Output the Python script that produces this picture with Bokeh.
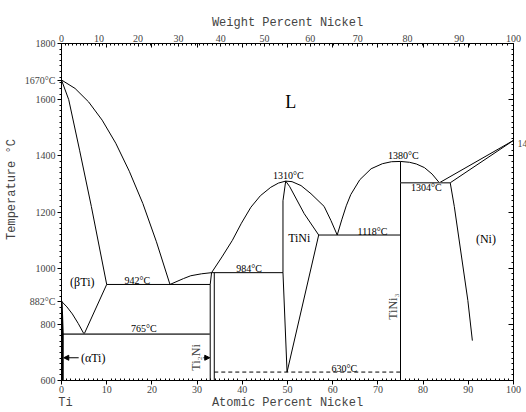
import math
from bokeh.plotting import figure
from bokeh.models import (Range1d, LinearAxis, FixedTicker,
                          CustomJSTickFormatter, Label, Arrow, NormalHead)
from bokeh.embed import file_html
from bokeh.resources import INLINE

# ---------------- data (atomic % Ni, temperature °C) ----------------
liq_ti_x = [0, 3, 6, 9, 12, 15, 18, 21, 24]
liq_ti_t = [1670, 1640, 1592, 1527, 1445, 1345, 1230, 1094, 942]

sol_bti_x = [0, 1.6, 4, 6.6, 10]
sol_bti_t = [1670, 1600, 1420, 1220, 942]

solv_bti_x = [10, 5]
solv_bti_t = [942, 765]

transus_x = [0, 1.2, 2.4, 3.7, 5]
transus_t = [882, 862, 837, 803, 765]

ati_x = [0, 0.25, 0.25]
ati_t = [882, 765, 600]

iso765_x = [0.25, 32.9]
iso765_t = [765, 765]

iso942_x = [10, 32.9]
iso942_t = [942, 942]

ti2ni_l_x = [33.2, 32.9, 32.9]
ti2ni_l_t = [984, 942, 600]

ti2ni_r_x = [33.8, 33.8]
ti2ni_r_t = [984, 600]

liq_eut_x = [24, 27, 28.6, 31, 33.2]
liq_eut_t = [942, 963, 973, 980, 984]

iso984_x = [33.2, 49.0]
iso984_t = [984, 984]

liq_tini_x = [33.2, 35.5, 37.8, 39.8, 41.9, 44, 46.3, 48, 49.6, 51, 53, 55.2, 58.1, 59.6, 61]
liq_tini_t = [984, 1040, 1099, 1160, 1217, 1258, 1288, 1303, 1310, 1308, 1294, 1265, 1220, 1170, 1118]

tini_l_x = [49.6, 49.0, 49.0, 49.9]
tini_l_t = [1310, 1240, 984, 630]

tini_r_x = [49.6, 50.5, 53.7, 56.9, 49.9]
tini_r_t = [1310, 1290, 1194, 1118, 630]

iso1118_x = [56.9, 75]
iso1118_t = [1118, 1118]

liq_tini3_x = [61, 62, 63, 64, 66, 68.5, 71, 73, 75, 77, 78.5, 80.3, 82, 83.6]
liq_tini3_t = [1118, 1172, 1222, 1262, 1315, 1354, 1372, 1379, 1380, 1377, 1371, 1358, 1335, 1304]

tini3_x = [75, 75]
tini3_t = [600, 1380]

iso1304_x = [75, 86]
iso1304_t = [1304, 1304]

liq_ni_x = [83.6, 100]
liq_ni_t = [1304, 1455]

sol_ni_x = [86, 100]
sol_ni_t = [1304, 1455]

solv_ni_x = [86, 86.9, 89.9, 90.9]
solv_ni_t = [1304, 1220, 885, 742]

iso630_x = [33.8, 75]
iso630_t = [630, 630]

# text labels inside the diagram
lab_text = ["L", "1310°C", "1380°C", "1304°C", "1118°C",
            "TiNi", "(Ni)", "942°C", "(βTi)", "984°C", "765°C", "(αTi)", "630°C"]
lab_x = [50.7, 50.2, 75.6, 80.7, 68.8, 52.6, 93.9, 16.8, 4.6, 41.5, 18.2, 7.0, 62.6]
lab_t = [1590, 1331, 1401, 1288, 1132, 1108, 1103, 956, 952, 998, 786, 680, 642]

rot_text = ["TiNi₃", "Ti₂Ni"]
rot_x = [73.4, 29.7]
rot_t = [863, 682]

arrow_x0 = [3.8, 31.4]
arrow_x1 = [0.5, 32.8]
arrow_t = [681, 681]

# texts around the frame
temp_ticks = [600, 800, 1000, 1200, 1400, 1600, 1800, 882, 1670]
temp_names = ["600", "800", "1000", "1200", "1400", "1600", "1800", "882°C", "1670°C"]
temp_minor = [t for t in range(600, 1801, 20) if t % 200 != 0]

at_ticks = list(range(0, 101, 10))
at_minor = [a for a in range(0, 101) if a % 10 != 0]

bottom_names = ["Ti", "Atomic Percent Nickel", "Ni"]
bottom_pos = [0.9, 50, 100.6]

ylabel_text = ["Temperature °C"]
ylabel_pos = [1280]

ni_melt_text = "1455°C"
ni_melt_x, ni_melt_t = 100.9, 1444

wt_major = list(range(0, 101, 10))
wt_minor = [w for w in range(0, 101) if w % 10 != 0]

M_NI, M_TI = 58.69, 47.87


def wt_to_at(w):
    a = w / M_NI
    b = (100 - w) / M_TI
    return 100 * a / (a + b)


NEAREST = """
let best = 0;
for (let i = 0; i < xs.length; i++)
    if (Math.abs(xs[i] - tick) < Math.abs(xs[best] - tick)) best = i;
return names[best];
"""


def name_formatter(xs, names):
    return CustomJSTickFormatter(args=dict(xs=list(xs), names=list(names)), code=NEAREST)


# ---------------- figure ----------------
W, H = 526, 412
p = figure(width=W, height=H, output_backend="svg", toolbar_location=None,
           x_range=Range1d(0, 100), y_range=Range1d(600, 1800),
           min_border_left=61, min_border_right=13, min_border_top=43, min_border_bottom=32)
p.grid.visible = False
p.outline_line_color = "black"
p.background_fill_color = "white"
p.border_fill_color = "white"

tick_font = "Liberation Serif"
TS = "10px"
title_font = "Liberation Mono"

# bottom axis (atomic %)
xa = p.xaxis[0]
xa.ticker = FixedTicker(ticks=at_ticks, minor_ticks=at_minor)
xa.major_tick_out = 4
xa.major_tick_in = 0
xa.minor_tick_in = 2
xa.minor_tick_out = 0
xa.major_label_standoff = 1
xa.major_label_text_font = tick_font
xa.major_label_text_font_size = TS

# second bottom row: Ti / Atomic Percent Nickel / Ni
xb = LinearAxis(ticker=FixedTicker(ticks=bottom_pos), formatter=name_formatter(bottom_pos, bottom_names),
                axis_line_color=None, major_tick_in=0, major_tick_out=0,
                minor_tick_in=0, minor_tick_out=0, major_label_standoff=0,
                major_label_text_font=title_font, major_label_text_font_size="12px")
p.add_layout(xb, "below")

# left axis
ya = p.yaxis[0]
ya.ticker = FixedTicker(ticks=temp_ticks, minor_ticks=temp_minor)
ya.formatter = name_formatter(temp_ticks, temp_names)
ya.major_tick_out = 4
ya.major_tick_in = 0
ya.minor_tick_out = 2
ya.minor_tick_in = 0
ya.major_label_standoff = 2
ya.major_label_text_font = tick_font
ya.major_label_text_font_size = TS

# left title row
yb = LinearAxis(ticker=FixedTicker(ticks=ylabel_pos), formatter=name_formatter(ylabel_pos, ylabel_text),
                axis_line_color=None, major_tick_in=0, major_tick_out=0,
                minor_tick_in=0, minor_tick_out=0, major_label_standoff=2,
                major_label_orientation="vertical",
                major_label_text_font=title_font, major_label_text_font_size="12px")
p.add_layout(yb, "left")

# top: atomic 10% marks (no labels), then weight % axis with title
top_at = LinearAxis(ticker=FixedTicker(ticks=[], minor_ticks=at_ticks),
                    minor_tick_in=4, minor_tick_out=0, major_tick_in=0, major_tick_out=0)
p.add_layout(top_at, "above")
top = LinearAxis(ticker=FixedTicker(ticks=[wt_to_at(w) for w in wt_major],
                                    minor_ticks=[wt_to_at(w) for w in wt_minor]),
                 formatter=CustomJSTickFormatter(code="""
                     const a = tick * 58.69, b = (100 - tick) * 47.87;
                     return Math.round(100 * a / (a + b)).toString();"""),
                 major_tick_in=3, major_tick_out=0, minor_tick_in=2, minor_tick_out=0,
                 major_label_standoff=2, major_label_text_font=tick_font,
                 major_label_text_font_size=TS,
                 axis_label="Weight Percent Nickel", axis_label_standoff=2,
                 axis_label_text_font=title_font, axis_label_text_font_size="12px",
                 axis_label_text_font_style="normal")
p.add_layout(top, "above")

# right: tick marks only (no labels)
right_minor = LinearAxis(ticker=FixedTicker(ticks=[], minor_ticks=temp_minor),
                         minor_tick_in=2, minor_tick_out=0, major_tick_in=0, major_tick_out=0)
right_major = LinearAxis(ticker=FixedTicker(ticks=[], minor_ticks=temp_ticks[:7]),
                         minor_tick_in=5, minor_tick_out=0, major_tick_in=0, major_tick_out=0)
p.add_layout(right_minor, "right")
p.add_layout(right_major, "right")

# ---------------- lines ----------------
thin = dict(line_color="black", line_width=1)
gray = dict(line_color="#555555", line_width=1.6)
for xs, ts, st in [
    (liq_ti_x, liq_ti_t, thin), (sol_bti_x, sol_bti_t, thin), (solv_bti_x, solv_bti_t, thin),
    (transus_x, transus_t, thin), (iso942_x, iso942_t, thin), (ti2ni_l_x, ti2ni_l_t, thin),
    (ti2ni_r_x, ti2ni_r_t, thin), (liq_eut_x, liq_eut_t, thin), (iso984_x, iso984_t, thin),
    (liq_tini_x, liq_tini_t, thin), (tini_l_x, tini_l_t, thin), (tini_r_x, tini_r_t, thin),
    (iso1118_x, iso1118_t, thin), (liq_tini3_x, liq_tini3_t, thin), (tini3_x, tini3_t, thin),
    (liq_ni_x, liq_ni_t, thin), (sol_ni_x, sol_ni_t, thin), (solv_ni_x, solv_ni_t, thin),
    (iso765_x, iso765_t, gray), (iso1304_x, iso1304_t, gray),
]:
    p.line(xs, ts, **st)
p.line(ati_x, ati_t, line_color="black", line_width=2.2)
p.line(iso630_x, iso630_t, line_color="black", line_width=1, line_dash="4 3")

# ---------------- labels ----------------
lab_font = "Liberation Serif"
for txt, x, t in zip(lab_text, lab_x, lab_t):
    if txt == "L":
        size = "18px"
    elif txt in ("TiNi", "(Ni)", "(βTi)", "(αTi)"):
        size = "12px"
    else:
        size = "10px"
    p.add_layout(Label(x=x, y=t, text=txt, text_font=lab_font, text_font_size=size,
                       text_align="center", text_baseline="middle", text_color="black"))

for txt, x, t in zip(rot_text, rot_x, rot_t):
    p.add_layout(Label(x=x, y=t, text=txt, text_font=lab_font, text_font_size="12px",
                       text_align="center", text_baseline="middle", angle=math.pi / 2))

for x0, x1, t in zip(arrow_x0, arrow_x1, arrow_t):
    p.add_layout(Arrow(end=NormalHead(size=5, fill_color="black", line_color="black"),
                       x_start=x0, y_start=t, x_end=x1, y_end=t,
                       line_color="black", line_width=1))

# Ni melting point label, outside the frame (side panel -> not clipped)
p.add_layout(Label(x=ni_melt_x, y=ni_melt_t, text=ni_melt_text, text_font=lab_font,
                   text_font_size="10px", text_align="left", text_baseline="middle"), "above")

open("out.html", "w").write(file_html(p, INLINE))
